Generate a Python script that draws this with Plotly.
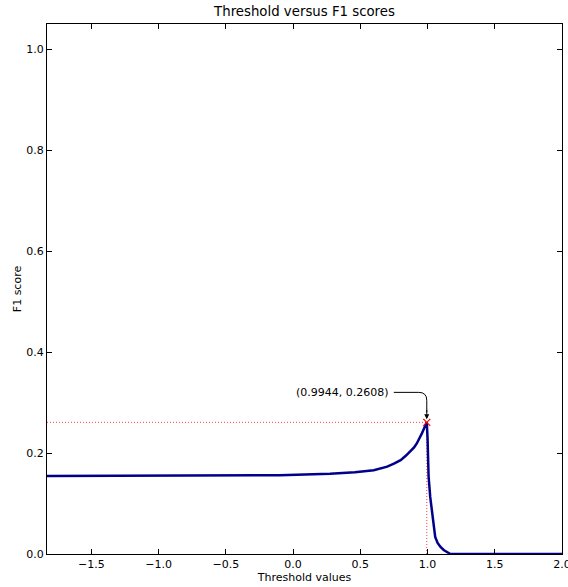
import plotly.graph_objects as go

thresholds = [-1.83, -1.0, -0.5, -0.1, 0.275, 0.46, 0.6, 0.65, 0.7, 0.75, 0.8, 0.84, 0.87,
              0.9, 0.92, 0.94, 0.958, 0.97, 0.98, 0.9944, 1.0, 1.008, 1.02, 1.033, 1.045,
              1.057, 1.075, 1.095, 1.12, 1.144, 1.17, 1.5, 2.0]
f1_scores = [0.1545, 0.1545, 0.155, 0.156, 0.159, 0.162, 0.166, 0.169, 0.173, 0.179, 0.186,
             0.195, 0.203, 0.211, 0.219, 0.228, 0.239, 0.246, 0.252, 0.2608, 0.230, 0.153,
             0.113, 0.081, 0.055, 0.034, 0.022, 0.0145, 0.008, 0.0046, 0.0, 0.0, 0.0]
best_threshold = 0.9944
best_f1 = 0.2608
x_min, x_max = -1.83, 2.0
x_ticks = [-1.5, -1.0, -0.5, 0.0, 0.5, 1.0, 1.5, 2.0]
y_ticks = [0.0, 0.2, 0.4, 0.6, 0.8, 1.0]

FONT = "DejaVu Sans"
fig = go.Figure()
dot = dict(color="rgba(255,0,0,0.75)", width=1, dash="1px,2px")
fig.add_trace(go.Scatter(x=[x_min, best_threshold], y=[best_f1, best_f1], mode="lines",
                         line=dot, hoverinfo="skip"))
fig.add_trace(go.Scatter(x=[best_threshold, best_threshold], y=[0, best_f1], mode="lines",
                         line=dot, hoverinfo="skip"))
fig.add_trace(go.Scatter(x=thresholds, y=f1_scores, mode="lines",
                         line=dict(color="#00008B", width=2.5)))
fig.add_trace(go.Scatter(x=[best_threshold], y=[best_f1], mode="markers",
                         marker=dict(symbol="x-thin", size=7, line=dict(color="red", width=1.2))))

# connector path (angle style) in pixel offsets relative to the peak
fig.add_shape(type="path", xref="x", yref="y", xsizemode="pixel", ysizemode="pixel",
              xanchor=best_threshold, yanchor=best_f1,
              path="M-33,30 L-8,30 Q0,30 0,22 L0,10",
              line=dict(color="black", width=1))
fig.add_annotation(x=best_threshold, y=best_f1, ax=0, ay=-14, text="", showarrow=True,
                   arrowhead=2, arrowsize=1, arrowwidth=1, arrowcolor="black", standoff=3)
fig.add_annotation(x=best_threshold, y=best_f1, text=f"({best_threshold}, {best_f1})",
                   showarrow=False, xanchor="right", yanchor="middle", xshift=-36, yshift=30,
                   font=dict(family=FONT, size=11, color="black"))

axis_common = dict(showline=True, linecolor="black", linewidth=1, mirror="ticks",
                   ticks="inside", ticklen=5, tickcolor="black", showgrid=False,
                   zeroline=False, automargin=False, ticklabeloverflow="allow",
                   tickfont=dict(family=FONT, size=11, color="black"))
fig.update_xaxes(range=[x_min, x_max], tickvals=x_ticks,
                 ticktext=[f"\u2212{abs(v):.1f}" if v < 0 else f"{v:.1f}" for v in x_ticks],
                 title=dict(text="Threshold values", font=dict(family=FONT, size=11, color="black"),
                            standoff=2),
                 **axis_common)
fig.update_yaxes(range=[0, 1.05], tickvals=y_ticks, ticktext=[f"{v:.1f}" for v in y_ticks],
                 title=dict(text="F1 score", font=dict(family=FONT, size=11, color="black"),
                            standoff=2),
                 **axis_common)
fig.update_layout(width=568, height=587, showlegend=False, plot_bgcolor="white",
                  paper_bgcolor="white",
                  margin=dict(l=47, r=6, t=24, b=33, autoexpand=False),
                  title=dict(text="Threshold versus F1 scores", x=0.5, xanchor="center",
                             xref="paper", y=1, yref="container", yanchor="top", pad=dict(t=7),
                             automargin=False,
                             font=dict(family=FONT, size=13.3, color="black")))
fig.write_html("out.html", config={"displayModeBar": False},
               post_script="document.body.style.margin='0';document.body.style.padding='0';")
